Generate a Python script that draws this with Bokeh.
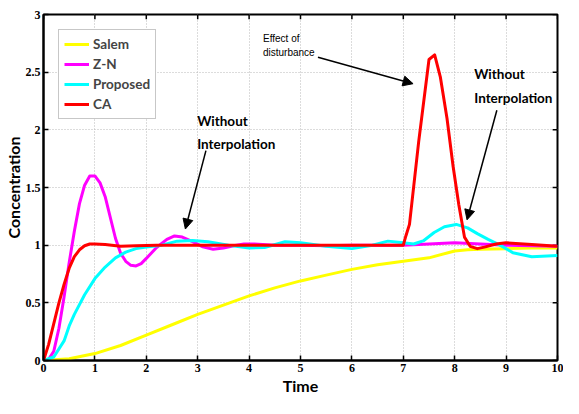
from bokeh.plotting import figure
from bokeh.models import Label, Arrow, NormalHead, Legend, LegendItem, FixedTicker, Range1d
from bokeh.embed import file_html
from bokeh.resources import INLINE

# ---------------- data ----------------
salem_t = [0, 0.5, 1, 1.5, 2, 2.5, 3, 3.5, 4, 4.5, 5, 5.5, 6, 6.5, 7, 7.5, 8, 8.25, 8.5, 9, 9.5, 10]
salem_y = [0, 0.015, 0.06, 0.13, 0.22, 0.31, 0.40, 0.48, 0.56, 0.63, 0.69, 0.74, 0.79, 0.83, 0.86,
           0.89, 0.95, 0.96, 0.965, 0.97, 0.975, 0.975]

zn_t = [0, 0.1, 0.2, 0.3, 0.4, 0.5, 0.6, 0.7, 0.8, 0.9, 1.0, 1.1, 1.2, 1.3, 1.4, 1.5, 1.6, 1.7, 1.8,
        1.9, 2.0, 2.2, 2.4, 2.55, 2.7, 2.9, 3.1, 3.3, 3.5, 3.7, 3.9, 4.1, 4.5, 5, 5.5, 6, 6.5, 7,
        7.5, 8, 8.5, 9, 9.5, 10]
zn_y = [0, 0.01, 0.08, 0.28, 0.55, 0.85, 1.12, 1.36, 1.52, 1.6, 1.6, 1.54, 1.42, 1.24, 1.06, 0.93,
        0.86, 0.825, 0.82, 0.84, 0.885, 0.98, 1.05, 1.08, 1.07, 1.03, 0.985, 0.965, 0.975, 0.995,
        1.01, 1.01, 1.0, 1.0, 0.995, 1.0, 1.0, 1.0, 1.01, 1.02, 1.01, 1.0, 0.995, 0.99]

prop_t = [0, 0.2, 0.4, 0.5, 0.6, 0.8, 1.0, 1.2, 1.4, 1.6, 1.8, 2.0, 2.3, 2.6, 2.9, 3.2, 3.6, 4.0,
          4.3, 4.7, 5.0, 5.5, 6.0, 6.4, 6.7, 7.0, 7.2, 7.4, 7.6, 7.8, 8.03, 8.25, 8.44, 8.65, 8.88,
          9.13, 9.5, 10]
prop_y = [0, 0.03, 0.17, 0.3, 0.4, 0.57, 0.71, 0.81, 0.89, 0.94, 0.97, 0.985, 1.0, 1.035, 1.04,
          1.03, 1.0, 0.975, 0.98, 1.03, 1.02, 0.99, 0.97, 1.0, 1.035, 1.02, 1.01, 1.04, 1.11, 1.16,
          1.18, 1.15, 1.1, 1.05, 1.0, 0.935, 0.9, 0.91]

ca_t = [0, 0.1, 0.2, 0.3, 0.4, 0.5, 0.6, 0.7, 0.8, 0.9, 1.0, 1.2, 1.5, 1.8, 2.2, 3, 4, 5, 6, 7.0,
        7.05, 7.12, 7.3, 7.5, 7.61, 7.72, 7.85, 7.97, 8.08, 8.19, 8.3, 8.44, 8.6, 8.8, 9.0, 9.5, 10]
ca_y = [0, 0.14, 0.32, 0.5, 0.66, 0.8, 0.9, 0.96, 0.995, 1.01, 1.01, 1.005, 0.99, 0.995, 1.0, 1.0,
        1.0, 1.0, 1.0, 1.0, 1.08, 1.18, 1.9, 2.61, 2.65, 2.46, 2.1, 1.68, 1.35, 1.07, 0.99, 0.97,
        0.985, 1.01, 1.02, 1.005, 0.99]

series_names = ["Salem", "Z-N", "Proposed", "CA"]
series_colors = ["#FFFF00", "#FF00FF", "#00FFFF", "#FF0000"]

x_ticks = [0, 1, 2, 3, 4, 5, 6, 7, 8, 9, 10]
x_tick_labels = ["0", "1", "2", "3", "4", "5", "6", "7", "8", "9", "10"]
y_ticks = [0, 0.5, 1, 1.5, 2, 2.5, 3]
y_tick_labels = ["0", "0.5", "1", "1.5", "2", "2.5", "3"]

X_MIN, X_MAX, Y_MIN, Y_MAX = 0, 10, 0, 3

# ---------------- figure ----------------
SANS = "Lato, 'Liberation Sans', sans-serif"
ARIAL = "'Liberation Sans', Arial, sans-serif"
SERIF = "'Liberation Serif', 'Times New Roman', serif"

p = figure(width=563, height=398, x_range=Range1d(X_MIN, X_MAX), y_range=Range1d(Y_MIN, Y_MAX),
           output_backend="svg", toolbar_location=None,
           min_border_left=40, min_border_right=6, min_border_top=14, min_border_bottom=38)
p.outline_line_color = "black"
p.outline_line_width = 2
p.background_fill_color = "white"
p.border_fill_color = "white"

for ax, ticks, labels in ((p.xaxis[0], x_ticks, x_tick_labels), (p.yaxis[0], y_ticks, y_tick_labels)):
    ax.ticker = FixedTicker(ticks=ticks)
    ax.major_label_overrides = {t: l for t, l in zip(ticks, labels)}
    ax.major_tick_in = 5
    ax.major_tick_out = 0
    ax.minor_tick_in = 0
    ax.minor_tick_out = 0
    ax.axis_line_width = 2
    ax.major_tick_line_width = 1.5
    ax.major_label_text_font = SERIF
    ax.major_label_text_font_style = "bold"
    ax.major_label_text_font_size = "12px"
    ax.major_label_text_color = "black"
    ax.axis_label_text_font = SANS
    ax.axis_label_text_font_style = "bold"
    ax.axis_label_text_font_size = "16px"
    ax.axis_label_text_color = "black"

p.xaxis.axis_label = "Time"
p.yaxis.axis_label = "Concentration"
p.xaxis.major_label_standoff = 3
p.yaxis.major_label_standoff = 3
p.xaxis.axis_label_standoff = 1
p.yaxis.axis_label_standoff = 0

p.xgrid.ticker = FixedTicker(ticks=x_ticks)
p.ygrid.ticker = FixedTicker(ticks=y_ticks)
p.grid.grid_line_color = "#b8b8b8"
p.grid.grid_line_dash = "1 2"
p.grid.grid_line_width = 1

# inward ticks on the top and right edges of the box
p.segment(x0=x_ticks, y0=[Y_MAX] * len(x_ticks), x1=x_ticks,
          y1=[Y_MAX - 0.042] * len(x_ticks), line_color="black", line_width=1.5)
p.segment(x0=[X_MAX] * len(y_ticks), y0=y_ticks, x1=[X_MAX - 0.095] * len(y_ticks),
          y1=y_ticks, line_color="black", line_width=1.5)

data = [(salem_t, salem_y), (zn_t, zn_y), (prop_t, prop_y), (ca_t, ca_y)]
renderers = []
for (t, y), name, col in zip(data, series_names, series_colors):
    r = p.line(t, y, line_color=col, line_width=3, line_join="round")
    renderers.append(r)

legend = Legend(items=[LegendItem(label=n, renderers=[r]) for n, r in zip(series_names, renderers)],
                location="top_left")
legend.label_text_font = SANS
legend.label_text_font_style = "bold"
legend.label_text_font_size = "13.5px"
legend.label_height = 18
legend.glyph_height = 18
legend.glyph_width = 25
legend.spacing = 2
legend.padding = 5
legend.margin = 15
legend.label_standoff = 4
legend.border_line_color = "#909090"
legend.border_line_width = 1
legend.background_fill_alpha = 1
p.add_layout(legend)

# ---------------- annotations ----------------
def add_text(x, y, txt, size, font=SANS, bold=True):
    p.add_layout(Label(x=x, y=y, text=txt, text_font=font, text_font_size=size,
                       text_font_style="bold" if bold else "normal",
                       text_baseline="middle", text_align="left", text_color="black"))

add_text(2.99, 2.08, "Without", "13.5px")
add_text(2.99, 1.88, "Interpolation", "13.5px")
add_text(8.38, 2.48, "Without", "13.5px")
add_text(8.38, 2.28, "Interpolation", "13.5px")
add_text(4.27, 2.79, "Effect of", "10px", font=ARIAL, bold=False)
add_text(4.27, 2.67, "disturbance", "10px", font=ARIAL, bold=False)

for xs, ys, xe, ye in ((3.16, 1.82, 2.76, 1.14), (5.34, 2.63, 7.19, 2.40), (8.82, 2.17, 8.24, 1.22)):
    p.add_layout(Arrow(x_start=xs, y_start=ys, x_end=xe, y_end=ye, line_width=1.5, line_color="black",
                       end=NormalHead(size=10, fill_color="black", line_color="black")))

open("out.html", "w").write(file_html(p, INLINE))
